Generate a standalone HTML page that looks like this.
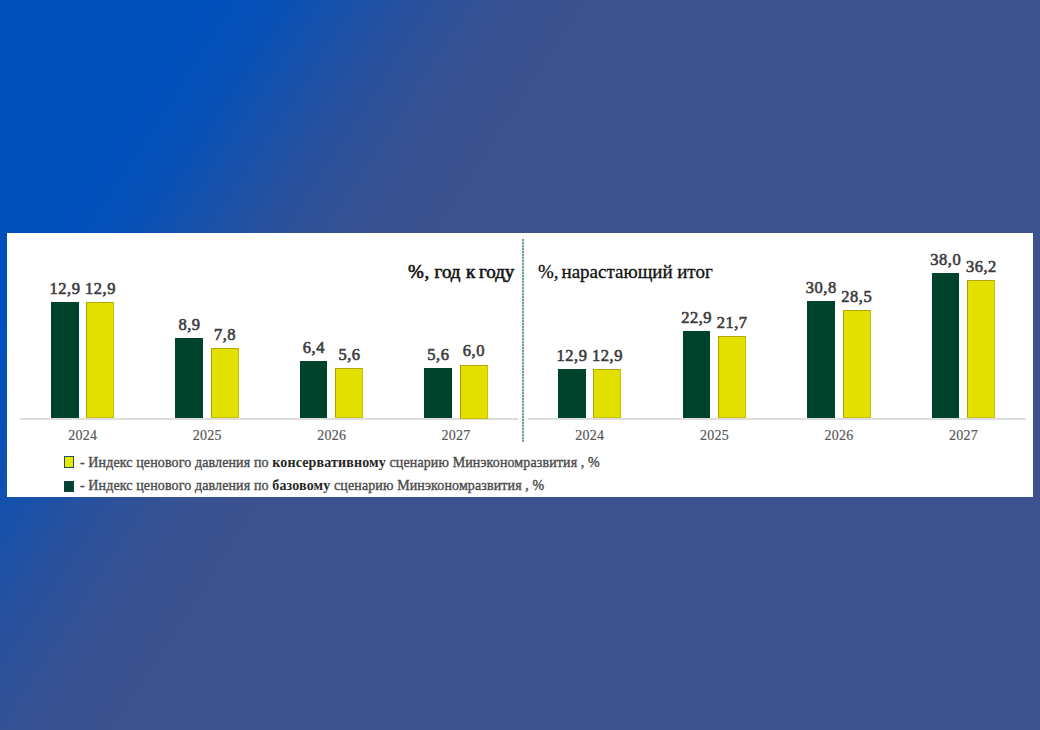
<!DOCTYPE html>
<html><head><meta charset="utf-8">
<style>
html,body{margin:0;padding:0;}
body{width:1040px;height:730px;position:relative;overflow:hidden;
background:linear-gradient(123deg,#0050bc 14.2%,#0650b7 18.2%,#1551ac 22.2%,#28519e 27.2%,#365294 32.7%,#3d528e 39.7%);
font-family:"Liberation Serif",serif;}
div{position:absolute;}
.panel{left:7px;top:233px;width:1026px;height:264px;background:#fff;}
.bar{box-sizing:border-box;}
.d{background:#00432c;}
.y{background:#e3e000;border:1px solid #c9c200;border-left-color:#aaa200;border-top-color:#b0a800;}
.val{width:80px;text-align:center;font-size:16.5px;letter-spacing:0.5px;color:#3c3c3c;-webkit-text-stroke:0.6px #3c3c3c;white-space:nowrap;}
.yr{width:80px;text-align:center;font-size:14px;letter-spacing:0.25px;color:#595959;-webkit-text-stroke:0.2px #595959;white-space:nowrap;}
.axis{height:2px;background:#dedede;top:418px;}
.t{color:#111;white-space:nowrap;}
.tb{-webkit-text-stroke:0.6px #111;}
.tr{-webkit-text-stroke:0.3px #111;}
.dv{left:522px;top:239px;width:2px;height:203px;background:repeating-linear-gradient(180deg,#6fa595 0px,#6fa595 2px,#c3ddd3 2px,#c3ddd3 3px);}
.lg{left:79.9px;font-size:14px;letter-spacing:0.12px;color:#4a4a4a;-webkit-text-stroke:0.35px #4a4a4a;white-space:nowrap;}
.lg b{color:#262626;-webkit-text-stroke:0px;letter-spacing:0.15px}
.lbox{left:64px;width:10px;height:11.5px;box-sizing:border-box;border:1.5px solid #1f4e5f;}
</style></head><body>
<div class="panel"></div>
<div class="axis" style="left:20px;width:498px"></div>
<div class="axis" style="left:527.5px;width:498px"></div>
<div class="dv"></div>
<div class="bar d" style="left:51.00px;top:302.40px;width:27.5px;height:116.10px"></div><div class="val" style="left:25.00px;top:279.30px">12,9</div><div class="bar y" style="left:86.30px;top:302.40px;width:28px;height:116.10px"></div><div class="val" style="left:60.55px;top:279.30px">12,9</div><div class="yr" style="left:42.78px;top:427.70px">2024</div><div class="bar d" style="left:175.45px;top:338.40px;width:27.5px;height:80.10px"></div><div class="val" style="left:149.45px;top:315.30px">8,9</div><div class="bar y" style="left:210.75px;top:348.30px;width:28px;height:70.20px"></div><div class="val" style="left:185.00px;top:325.20px">7,8</div><div class="yr" style="left:167.22px;top:427.70px">2025</div><div class="bar d" style="left:299.90px;top:360.90px;width:27.5px;height:57.60px"></div><div class="val" style="left:273.90px;top:337.80px">6,4</div><div class="bar y" style="left:335.20px;top:368.10px;width:28px;height:50.40px"></div><div class="val" style="left:309.45px;top:345.00px">5,6</div><div class="yr" style="left:291.67px;top:427.70px">2026</div><div class="bar d" style="left:424.35px;top:368.10px;width:27.5px;height:50.40px"></div><div class="val" style="left:398.35px;top:345.00px">5,6</div><div class="bar y" style="left:459.65px;top:364.50px;width:28px;height:54.00px"></div><div class="val" style="left:433.90px;top:341.40px">6,0</div><div class="yr" style="left:416.12px;top:427.70px">2027</div><div class="bar d" style="left:558.00px;top:369.22px;width:27.5px;height:49.28px"></div><div class="val" style="left:532.00px;top:346.12px">12,9</div><div class="bar y" style="left:593.30px;top:369.22px;width:28px;height:49.28px"></div><div class="val" style="left:567.55px;top:346.12px">12,9</div><div class="yr" style="left:549.77px;top:427.70px">2024</div><div class="bar d" style="left:682.60px;top:331.02px;width:27.5px;height:87.48px"></div><div class="val" style="left:656.60px;top:307.92px">22,9</div><div class="bar y" style="left:717.90px;top:335.61px;width:28px;height:82.89px"></div><div class="val" style="left:692.15px;top:312.51px">21,7</div><div class="yr" style="left:674.38px;top:427.70px">2025</div><div class="bar d" style="left:807.20px;top:300.84px;width:27.5px;height:117.66px"></div><div class="val" style="left:781.20px;top:277.74px">30,8</div><div class="bar y" style="left:842.50px;top:309.63px;width:28px;height:108.87px"></div><div class="val" style="left:816.75px;top:286.53px">28,5</div><div class="yr" style="left:798.98px;top:427.70px">2026</div><div class="bar d" style="left:931.80px;top:273.34px;width:27.5px;height:145.16px"></div><div class="val" style="left:905.80px;top:250.24px">38,0</div><div class="bar y" style="left:967.10px;top:280.22px;width:28px;height:138.28px"></div><div class="val" style="left:941.35px;top:257.12px">36,2</div><div class="yr" style="left:923.57px;top:427.70px">2027</div><div class="t tb" style="left:408.00px;top:260.60px;font-size:19px"><span style="letter-spacing:0.6px">%</span>,</div><div class="t tb" style="left:434.60px;top:260.60px;font-size:19px">год</div><div class="t tb" style="left:466.10px;top:260.60px;font-size:19px">к</div><div class="t tb" style="left:478.90px;top:260.60px;font-size:19px">году</div><div class="t tr" style="left:537.90px;top:260.60px;font-size:19px">%,</div><div class="t tr" style="left:561.50px;top:260.60px;font-size:19px">нарастающий</div><div class="t tr" style="left:677.20px;top:260.60px;font-size:19px">итог</div>
<div class="lbox" style="top:456px;background:#e8e800"></div>
<div class="lbox" style="top:480.6px;background:#00432c;border-color:#173f4a"></div>
<div class="lg" style="top:454.5px">- Индекс ценового давления по <b>консервативному</b> сценарию Минэкономразвития , %</div>
<div class="lg" style="top:478px">- Индекс ценового давления по <b>базовому</b> сценарию Минэкономразвития , %</div>
</body></html>
